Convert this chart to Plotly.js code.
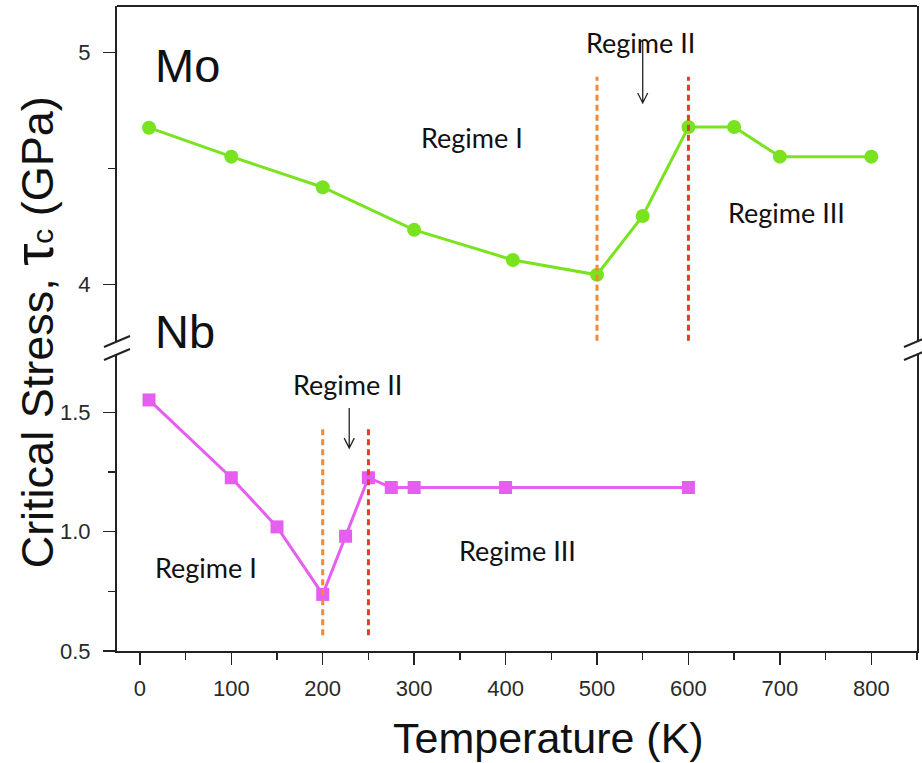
<!DOCTYPE html>
<html>
<head>
<meta charset="utf-8">
<script src="https://cdn.plot.ly/plotly-3.0.1.min.js"></script>
<style>html,body{margin:0;padding:0;background:#fff;}#chart{width:922px;height:763px;}</style>
</head>
<body>
<div id="chart"></div>
<script>
// ---- data ----
const moT   = [10, 100, 200, 300, 408, 500, 550, 600, 650, 700, 800];
const moTau = [4.676, 4.551, 4.419, 4.235, 4.105, 4.041, 4.295, 4.679, 4.679, 4.551, 4.551];
const nbT   = [10, 100, 150, 200, 225, 250, 275, 300, 400, 600];
const nbTau = [1.552, 1.226, 1.020, 0.737, 0.981, 1.226, 1.185, 1.185, 1.185, 1.185];
const moBounds = [500, 600];   // Regime I/II and II/III boundaries (K)
const nbBounds = [200, 250];
const xTicks = [0, 100, 200, 300, 400, 500, 600, 700, 800];
const moTicks = [4, 5];
const nbTicks = [0.5, 1.0, 1.5];
const regimeLabels = ["Regime I", "Regime II", "Regime III"];

const GREEN = "#78E31E", MAGENTA = "#E55EF0", ORANGE = "#F08A36", RED = "#E8392B";

const traces = [
  {x: moT, y: moTau, xaxis: "x", yaxis: "y2", mode: "lines+markers", name: "Mo",
   line: {color: GREEN, width: 3}, marker: {symbol: "circle", size: 14, color: GREEN}},
  {x: nbT, y: nbTau, xaxis: "x", yaxis: "y", mode: "lines+markers", name: "Nb",
   line: {color: MAGENTA, width: 3}, marker: {symbol: "square", size: 13, color: MAGENTA}}
];

const axisFont = {family: "Arial, Liberation Sans, sans-serif", size: 22, color: "#2a2a2a"};
const regFont = {family: "Lato, Open Sans, sans-serif", size: 27, color: "#111"};

const shapes = [];
// regime boundaries
shapes.push({type: "line", xref: "x", yref: "y2", x0: moBounds[0], x1: moBounds[0], y0: 3.756, y1: 4.896,
  line: {color: ORANGE, width: 3, dash: "6px,4px"}});
shapes.push({type: "line", xref: "x", yref: "y2", x0: moBounds[1], x1: moBounds[1], y0: 3.756, y1: 4.896,
  line: {color: RED, width: 3, dash: "6px,4px"}});
shapes.push({type: "line", xref: "x", yref: "y", x0: nbBounds[0], x1: nbBounds[0], y0: 0.566, y1: 1.430,
  line: {color: ORANGE, width: 3, dash: "6px,4px"}});
shapes.push({type: "line", xref: "x", yref: "y", x0: nbBounds[1], x1: nbBounds[1], y0: 0.566, y1: 1.430,
  line: {color: RED, width: 3, dash: "6px,4px"}});
// arrows (open V heads)
shapes.push({type: "path", xref: "x", yref: "y2",
  path: "M550,5.053 L550,4.783 M544.5,4.826 L550,4.783 L555.5,4.826",
  line: {color: "#222", width: 1.3}});
shapes.push({type: "path", xref: "x", yref: "y",
  path: "M229,1.518 L229,1.350 M223.5,1.392 L229,1.350 L234.5,1.392",
  line: {color: "#222", width: 1.3}});
// top frame line
shapes.push({type: "line", xref: "paper", yref: "paper", x0: 0, x1: 1, y0: 1, y1: 1,
  line: {color: "#222", width: 2}});
// axis break marks (left & right)
function brk(xp) {
  const dx = 13 / 800, y1a = (651 - 336) / 645, y1b = (651 - 347) / 645,
        y2a = (651 - 349) / 645, y2b = (651 - 360) / 645;
  shapes.push({type: "line", xref: "paper", yref: "paper", x0: xp - dx, x1: xp + dx, y0: y1b, y1: y1a,
    line: {color: "#222", width: 2}});
  shapes.push({type: "line", xref: "paper", yref: "paper", x0: xp - dx, x1: xp + dx, y0: y2b, y1: y2a,
    line: {color: "#222", width: 2}});
}
brk(0); brk(1);

const annotations = [
  {xref: "paper", yref: "paper", x: 0.045, y: 0.908, xanchor: "left", yanchor: "middle", showarrow: false,
   text: "Mo", font: {family: "Arial, Liberation Sans, sans-serif", size: 47, color: "#111"}},
  {xref: "paper", yref: "paper", x: 0.045, y: 0.496, xanchor: "left", yanchor: "middle", showarrow: false,
   text: "Nb", font: {family: "Arial, Liberation Sans, sans-serif", size: 47, color: "#111"}},
  {xref: "x", yref: "y2", x: 363, y: 4.632, text: regimeLabels[0], showarrow: false, font: regFont},
  {xref: "x", yref: "y2", x: 548, y: 5.042, text: regimeLabels[1], showarrow: false, font: regFont},
  {xref: "x", yref: "y2", x: 707, y: 4.312, text: regimeLabels[2], showarrow: false, font: regFont},
  {xref: "x", yref: "y", x: 72, y: 0.852, text: regimeLabels[0], showarrow: false, font: regFont},
  {xref: "x", yref: "y", x: 227.5, y: 1.615, text: regimeLabels[1], showarrow: false, font: regFont},
  {xref: "x", yref: "y", x: 413, y: 0.922, text: regimeLabels[2], showarrow: false, font: regFont},
  {xref: "paper", yref: "paper", x: (33 - 117) / 800, y: 0.494, textangle: -90, showarrow: false,
   xanchor: "center", yanchor: "middle",
   text: "Critical Stress, <span style='font-size:56px'>τ</span><span style='font-size:30px'>c</span> (GPa)",
   font: {family: "Arial, Liberation Sans, sans-serif", size: 45, color: "#111"}},
  {xref: "paper", yref: "paper", x: (548 - 117) / 800, y: (651 - 738) / 645, showarrow: false,
   xanchor: "center", yanchor: "middle", text: "Temperature (K)",
   font: {family: "Arial, Liberation Sans, sans-serif", size: 43, color: "#111"}}
];

const layout = {
  width: 922, height: 763,
  margin: {l: 117, r: 5, t: 6, b: 112},
  paper_bgcolor: "#fff", plot_bgcolor: "#fff",
  showlegend: false,
  xaxis: {range: [-25, 850], anchor: "y", tickvals: xTicks, ticktext: xTicks.map(String),
    showline: true, linecolor: "#222", linewidth: 2, ticks: "outside", ticklen: 12, tickwidth: 1.5,
    tickcolor: "#222", showgrid: false, zeroline: false, tickfont: axisFont, ticklabelstandoff: 5,
    minor: {dtick: 50, tick0: 0, ticks: "outside", ticklen: 7, tickwidth: 1.5, tickcolor: "#222", showgrid: false}},
  yaxis: {domain: [0, (651 - 354) / 645], range: [0.5, 1.7445], tickvals: nbTicks, ticktext: ["0.5", "1.0", "1.5"],
    showline: true, mirror: true, linecolor: "#222", linewidth: 2, ticks: "outside", ticklen: 12, tickwidth: 1.5,
    tickcolor: "#222", showgrid: false, zeroline: false, tickfont: axisFont, ticklabelstandoff: 8,
    minor: {tickvals: [0.75, 1.25], ticks: "outside", ticklen: 7, tickwidth: 1.5, tickcolor: "#222", showgrid: false}},
  yaxis2: {domain: [(651 - 341) / 645, 1], range: [3.755, 5.2015], anchor: "x", tickvals: moTicks, ticktext: ["4", "5"],
    showline: true, mirror: true, linecolor: "#222", linewidth: 2, ticks: "outside", ticklen: 12, tickwidth: 1.5,
    tickcolor: "#222", showgrid: false, zeroline: false, tickfont: axisFont, ticklabelstandoff: 8,
    minor: {tickvals: [4.5], ticks: "outside", ticklen: 7, tickwidth: 1.5, tickcolor: "#222", showgrid: false}},
  shapes: shapes,
  annotations: annotations
};

Plotly.newPlot("chart", traces, layout, {displayModeBar: false, staticPlot: true});
</script>
</body>
</html>
